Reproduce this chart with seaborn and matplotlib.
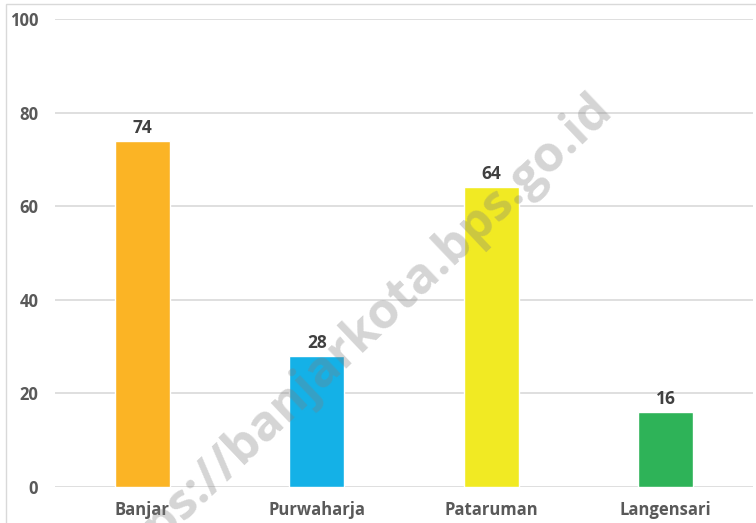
import matplotlib
matplotlib.use("Agg")
import matplotlib.pyplot as plt
import seaborn as sns
import pandas as pd

categories = ["Banjar", "Purwaharja", "Pataruman", "Langensari"]
values = [74, 28, 64, 16]
colors = ["#FBB425", "#14B1E7", "#F1EA23", "#2EB358"]
yticks = [0, 20, 40, 60, 80, 100]

sns.set_theme(style="white")
plt.rcParams["font.family"] = ["Open Sans", "DejaVu Sans"]

df = pd.DataFrame({"kec": categories, "val": values})

fig = plt.figure(figsize=(7.56, 5.23), dpi=100)
ax = fig.add_axes([0.0728, 0.0688, 0.9232, 0.8949])

sns.barplot(data=df, x="kec", y="val", hue="kec", palette=colors,
            width=0.315, ax=ax, legend=False, saturation=1, zorder=2)

ax.set_ylim(0, 100)
ax.set_xlim(-0.5, 3.5)
ax.set_yticks(yticks)
ax.set_yticklabels([str(t) for t in yticks], fontsize=12, fontweight="bold", color="#595959")
ax.tick_params(axis="x", labelsize=12, labelcolor="#595959", pad=10, length=0)
ax.tick_params(axis="y", pad=12, length=0)
for lbl in ax.get_xticklabels():
    lbl.set_fontweight("bold")
ax.set_xlabel("")
ax.set_ylabel("")
ax.yaxis.grid(True, color="#d9d9d9", linewidth=1.2, zorder=0)
ax.set_axisbelow(True)
for s in ax.spines.values():
    s.set_visible(False)

for cont in ax.containers:
    ax.bar_label(cont, fmt="%d", padding=3, fontsize=12.5, fontweight="bold", color="#404040")

# outer chart frame
frame = plt.Rectangle((0.008, -0.01), 1.1, 1.002, transform=fig.transFigure,
                      fill=False, edgecolor="#d9d9d9", linewidth=1.0)
fig.add_artist(frame)

fig.text(0.463, 0.344, "https://banjarkota.bps.go.id", rotation=43.5,
         ha="center", va="center", fontsize=36, fontweight="bold",
         color="#7f7f7f", alpha=0.33, rotation_mode="anchor", zorder=10)

fig.savefig("out.png", dpi=100, facecolor="white")
